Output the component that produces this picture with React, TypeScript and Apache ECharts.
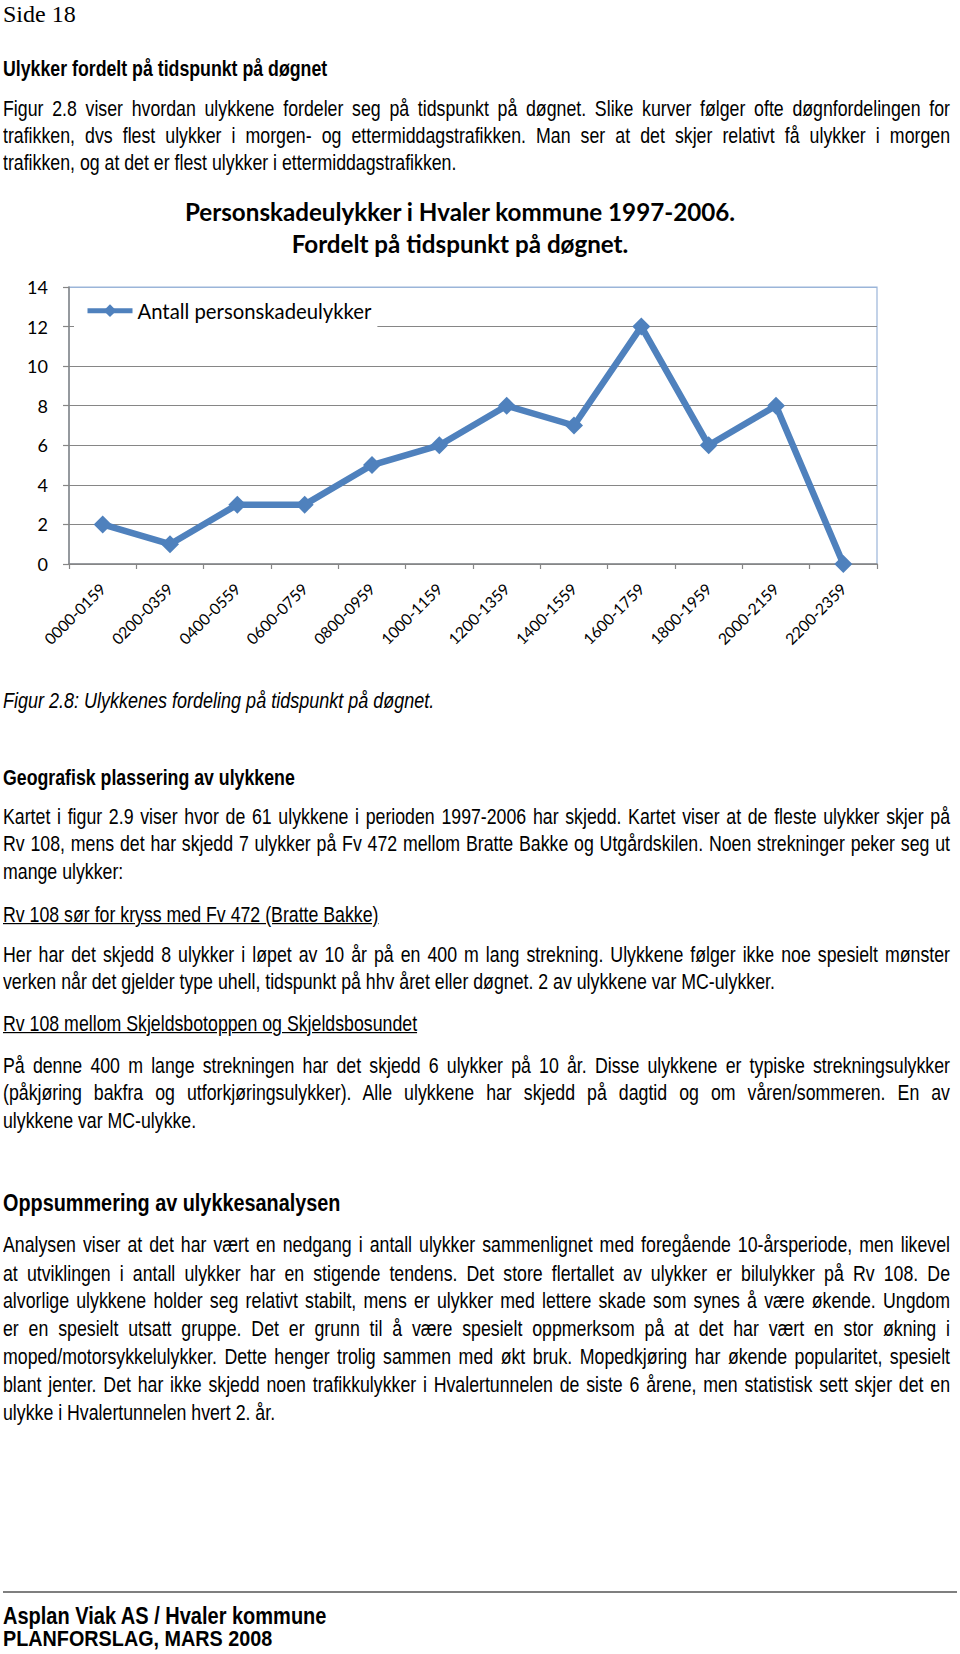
import React, { useEffect, useRef } from "react";
import * as echarts from "echarts";

// ---------- chart data ----------
const categories = [
  "0000-0159", "0200-0359", "0400-0559", "0600-0759", "0800-0959", "1000-1159",
  "1200-1359", "1400-1559", "1600-1759", "1800-1959", "2000-2159", "2200-2359",
];
const accidents = [2, 1, 3, 3, 5, 6, 8, 7, 12, 6, 8, 0];
const seriesName = "Antall personskadeulykker";
const titleLines = [
  "Personskadeulykker i Hvaler kommune 1997-2006.",
  "Fordelt på tidspunkt på døgnet.",
];
const yMin = 0;
const yMax = 14;
const yStep = 2;

// ---------- page text ----------
const pageNumber = "Side 18";
const heading1 = "Ulykker fordelt på tidspunkt på døgnet";
const para1 = [
  "Figur 2.8 viser hvordan ulykkene fordeler seg på tidspunkt på døgnet. Slike kurver følger ofte døgnfordelingen for",
  "trafikken, dvs flest ulykker i morgen- og ettermiddagstrafikken. Man ser at det skjer relativt få ulykker i morgen",
  "trafikken, og at det er flest ulykker i ettermiddagstrafikken.",
];
const caption = "Figur 2.8: Ulykkenes fordeling på tidspunkt på døgnet.";
const heading2 = "Geografisk plassering av ulykkene";
const para2 = [
  "Kartet i figur 2.9 viser hvor de 61 ulykkene i perioden 1997-2006 har skjedd. Kartet viser at de fleste ulykker skjer på",
  "Rv 108, mens det har skjedd 7 ulykker på Fv 472 mellom Bratte Bakke og Utgårdskilen. Noen strekninger peker seg ut",
  "mange ulykker:",
];
const sub1 = "Rv 108 sør for kryss med Fv 472 (Bratte Bakke)";
const para3 = [
  "Her har det skjedd 8 ulykker i løpet av 10 år på en 400 m lang strekning. Ulykkene følger ikke noe spesielt mønster",
  "verken når det gjelder type uhell, tidspunkt på hhv året eller døgnet. 2 av ulykkene var MC-ulykker.",
];
const sub2 = "Rv 108 mellom Skjeldsbotoppen og Skjeldsbosundet";
const para4 = [
  "På denne 400 m lange strekningen har det skjedd 6 ulykker på 10 år. Disse ulykkene er typiske strekningsulykker",
  "(påkjøring bakfra og utforkjøringsulykker).  Alle ulykkene har skjedd på dagtid og om våren/sommeren.  En av",
  "ulykkene var MC-ulykke.",
];
const heading3 = "Oppsummering av ulykkesanalysen";
const para5 = [
  "Analysen viser at det har vært en nedgang i antall ulykker sammenlignet med foregående 10-årsperiode, men likevel",
  "at utviklingen i antall ulykker har en stigende tendens.  Det store flertallet av ulykker er bilulykker på Rv 108.  De",
  "alvorlige ulykkene holder seg relativt stabilt, mens er ulykker med lettere skade som synes å være økende.  Ungdom",
  "er en spesielt utsatt gruppe.  Det er grunn til å være spesielt oppmerksom på at det har vært en stor økning i",
  "moped/motorsykkelulykker. Dette henger trolig sammen med økt bruk.  Mopedkjøring har økende popularitet, spesielt",
  "blant jenter.  Det har ikke skjedd noen trafikkulykker i Hvalertunnelen de siste 6 årene, men statistisk sett skjer det en",
  "ulykke i Hvalertunnelen hvert 2. år.",
];
const footer1 = "Asplan Viak AS / Hvaler kommune";
const footer2 = "PLANFORSLAG, MARS 2008";

const SANS = '"Liberation Sans", Arial, sans-serif';
const SERIF = '"Liberation Serif", "Times New Roman", serif';
const BODY = 17.74;
const STRETCH = 1.2;
const LEFT = 3;
const TEXT_W = 947;
const DY = 3;

type LineProps = {
  y: number; // baseline, page px
  text: string;
  fs?: number;
  bold?: boolean;
  italic?: boolean;
  underline?: boolean;
  justify?: boolean;
  serif?: boolean;
  stretch?: number;
};

function Line({ y, text, fs = BODY, bold, italic, underline, justify, serif, stretch = STRETCH }: LineProps) {
  const baseRatio = serif ? 0.8375 : 0.8465;
  const b = baseRatio * fs;
  return (
    <div
      style={{
        position: "absolute",
        left: LEFT,
        top: y - b,
        width: justify ? TEXT_W : undefined,
        fontFamily: serif ? SERIF : SANS,
        fontSize: fs,
        lineHeight: `${fs}px`,
        fontWeight: bold ? 700 : 400,
        fontStyle: italic ? "italic" : "normal",
        textDecoration: underline ? "underline" : "none",
        whiteSpace: "nowrap",
        textAlign: justify ? "justify" : "left",
        textAlignLast: justify ? "justify" : "auto",
        color: "#000",
        transform: `scaleY(${stretch})`,
        transformOrigin: `0 ${b}px`,
      } as React.CSSProperties}
    >
      {text}
    </div>
  );
}

function Para({ lines, ys }: { lines: string[]; ys: number[] }) {
  return (
    <>
      {lines.map((t, i) => (
        <Line key={i} y={ys[i] + DY} text={t} justify={i < lines.length - 1} />
      ))}
    </>
  );
}

function Chart() {
  const ref = useRef<HTMLDivElement>(null);
  useEffect(() => {
    if (!ref.current) return;
    const chart = echarts.init(ref.current, null, { renderer: "svg" });
    const blue = "#4F81BD";
    const grey = "#868686";
    const splitColors = [grey, grey, grey, grey, grey, grey, grey, "#9BB5D9"];
    chart.setOption({
      animation: false,
      textStyle: { fontFamily: "Lato" },
      graphic: titleLines.map((t, i) => ({
        type: "text",
        x: 460,
        y: 21 + i * 32,
        style: {
          text: t,
          fontFamily: "Lato",
          fontWeight: "bold",
          fontSize: 24.2,
          fill: "#000",
          align: "center",
          verticalAlign: "middle",
        },
      })),
      grid: {
        left: 69,
        right: 83,
        top: 97,
        bottom: 106,
        show: true,
        borderColor: "#9BB5D9",
        borderWidth: 1.2,
        backgroundColor: "transparent",
      },
      legend: {
        show: true,
        data: [seriesName],
        left: 74,
        top: 102.7,
        padding: [8, 6, 10, 11],
        backgroundColor: "#ffffff",
        itemWidth: 45,
        itemHeight: 16,
        lineStyle: { width: 5 },
        textStyle: { fontSize: 20.3, fontFamily: "Lato", color: "#000", lineHeight: 20 },
      },
      xAxis: {
        type: "category",
        data: categories,
        boundaryGap: true,
        axisLine: { show: true, lineStyle: { color: grey, width: 1.5 } },
        axisTick: { show: true, length: 5, lineStyle: { color: grey, width: 1.2 } },
        axisLabel: {
          rotate: 45,
          margin: 22,
          interval: 0,
          fontSize: 15.7,
          fontFamily: "Lato",
          color: "#000",
        },
        splitLine: { show: false },
      },
      yAxis: {
        type: "value",
        min: yMin,
        max: yMax,
        interval: yStep,
        axisLine: { show: true, lineStyle: { color: grey, width: 1.5 } },
        axisTick: { show: true, length: 6, lineStyle: { color: grey, width: 1.2 } },
        axisLabel: { margin: 21, fontSize: 18, fontFamily: "Lato", color: "#000" },
        splitLine: { show: true, lineStyle: { color: splitColors, width: 1.2 } },
      },
      series: [
        {
          type: "line",
          name: seriesName,
          data: accidents,
          color: blue,
          lineStyle: { width: 6.5, color: blue },
          itemStyle: { color: blue },
          symbol: "diamond",
          symbolSize: 18,
          clip: false,
          z: 3,
        },
      ],
    });
    return () => chart.dispose();
  }, []);
  return (
    <div
      ref={ref}
      style={{ position: "absolute", left: 0, top: 190, width: 960, height: 480 }}
    />
  );
}

export default function App() {
  useEffect(() => {
    document.body.style.margin = "0";
  }, []);
  return (
    <div
      style={{
        position: "absolute",
        left: 0,
        top: 0,
        width: 960,
        height: 1654,
        overflow: "hidden",
        background: "#fff",
      }}
    >
      <Line y={21.6} text={pageNumber} fs={24} serif stretch={1} />
      <Line y={74 + DY} text={heading1} bold />
      <Para lines={para1} ys={[114, 141, 168]} />
      <Chart />
      <Line y={705 + DY} text={caption} italic fs={18} />
      <Line y={783 + DY} text={heading2} bold />
      <Para lines={para2} ys={[822, 849.5, 877]} />
      <Line y={920 + DY} text={sub1} underline />
      <Para lines={para3} ys={[960, 987.5]} />
      <Line y={1029 + DY} text={sub2} underline />
      <Para lines={para4} ys={[1071, 1098.5, 1126]} />
      <Line y={1209 + DY} text={heading3} bold fs={19.85} />
      <Para lines={para5} ys={[1250, 1279, 1306, 1334, 1362, 1390, 1418]} />
      <div
        style={{
          position: "absolute",
          left: 3,
          top: 1591,
          width: 954,
          height: 2,
          background: "#7f7f7f",
        }}
      />
      <Line y={1624} text={footer1} bold fs={20} stretch={1.15} />
      <Line y={1647} text={footer2} bold fs={19.8} stretch={1.1} />
    </div>
  );
}
